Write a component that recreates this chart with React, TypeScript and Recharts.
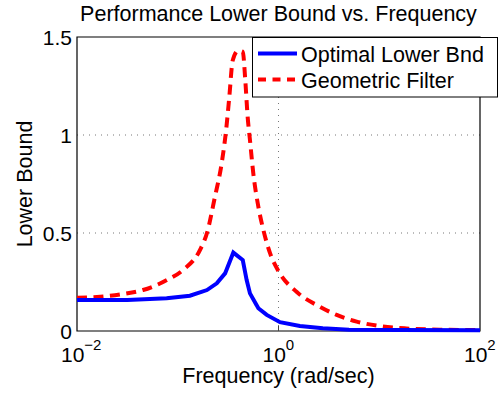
import React from 'react';
import { LineChart, Line, XAxis, YAxis, CartesianGrid, ReferenceArea } from 'recharts';

// Frequencies (rad/sec) and values
const optimalFreq = [0.01, 0.0316, 0.0776, 0.132, 0.195, 0.244, 0.295, 0.356, 0.442, 0.483, 0.521, 0.631, 0.764, 1.035, 1.63, 2.75, 5.0, 15.8, 100];
const optimalVals = [0.158, 0.158, 0.167, 0.18, 0.209, 0.243, 0.294, 0.4, 0.362, 0.26, 0.192, 0.116, 0.082, 0.045, 0.026, 0.014, 0.007, 0.005, 0.004];

const geometricFreq = [0.01, 0.017, 0.0288, 0.0452, 0.0782, 0.112, 0.166, 0.195, 0.234, 0.273, 0.302, 0.325, 0.351, 0.398, 0.442, 0.468, 0.494, 0.521, 0.562, 0.631, 0.708, 0.824, 1.0, 1.51, 2.57, 3.78, 5.97, 10.2, 18.6, 39.8, 100];
const geometricVals = [0.17, 0.175, 0.189, 0.209, 0.26, 0.31, 0.413, 0.5, 0.685, 0.856, 1.025, 1.195, 1.38, 1.43, 1.425, 1.28, 1.093, 0.974, 0.805, 0.634, 0.515, 0.397, 0.305, 0.2, 0.124, 0.082, 0.048, 0.025, 0.013, 0.007, 0.005];

const xTicks = [0.01, 1, 100];
const xTickExponents = ['\u22122', '0', '2'];
const yTicks = [0, 0.5, 1, 1.5];
const yTickLabels = ['0', '0.5', '1', '1.5'];

const seriesNames = ['Optimal Lower Bnd', 'Geometric Filter'];
const titleText = 'Performance Lower Bound vs. Frequency';
const xLabelText = 'Frequency (rad/sec)';
const yLabelText = 'Lower Bound';

const optimalData = optimalFreq.map((f, i) => ({ f, v: optimalVals[i] }));
const geometricData = geometricFreq.map((f, i) => ({ f, v: geometricVals[i] }));

const FONT = '"Liberation Sans", Arial, Helvetica, sans-serif';
const PLOT_TOP = 37;
const PLOT_BOTTOM = 331;
const PLOT_LEFT = 77;

const XTick = (props: any) => {
  const { x, payload } = props;
  const i = xTicks.indexOf(payload.value);
  const exp = i >= 0 ? xTickExponents[i] : '';
  const showTick = payload.value !== 0.01 && payload.value !== 100;
  return (
    <g>
      {showTick && (
        <>
          <line x1={x} x2={x} y1={PLOT_BOTTOM} y2={PLOT_BOTTOM - 5} stroke="#444" strokeWidth={1} />
          <line x1={x} x2={x} y1={PLOT_TOP} y2={PLOT_TOP + 5} stroke="#444" strokeWidth={1} />
        </>
      )}
      <text x={x - 16} y={PLOT_BOTTOM + 31} fontFamily={FONT} fontSize={21} fill="#000">
        <tspan>10</tspan>
        <tspan dy={-12} fontSize={15}>{exp}</tspan>
      </text>
    </g>
  );
};

const YTick = (props: any) => {
  const { y, payload } = props;
  const i = yTicks.indexOf(payload.value);
  return (
    <text x={PLOT_LEFT - 5} y={y} dy={7.5} textAnchor="end" fontFamily={FONT} fontSize={21} fill="#000">
      {i >= 0 ? yTickLabels[i] : ''}
    </text>
  );
};

const LegendBox = () => (
  <svg width={246} height={61} style={{ display: 'block' }}>
    <rect x={0.5} y={0.5} width={245} height={59.5} fill="#fff" stroke="#000" strokeWidth={1} />
    <line x1={6} x2={45} y1={16.5} y2={16.5} stroke="#0000ff" strokeWidth={4} />
    <text x={49} y={24.5} fontFamily={FONT} fontSize={21.5} fill="#000">{seriesNames[0]}</text>
    <line x1={6} x2={46} y1={42.5} y2={42.5} stroke="#ff0000" strokeWidth={4} strokeDasharray="8 6.5" />
    <text x={49} y={51} fontFamily={FONT} fontSize={21.5} fill="#000">{seriesNames[1]}</text>
  </svg>
);

export default function App() {
  return (
    <div style={{ position: 'absolute', left: 0, top: 0, width: 501, height: 394, background: '#fff' }}>
      <LineChart
        width={501}
        height={394}
        margin={{ top: PLOT_TOP, right: 21, left: 17, bottom: 23 }}
        style={{ fontFamily: FONT }}
      >
        <CartesianGrid
          horizontalValues={[0.5, 1]}
          verticalValues={[1]}
          stroke="#777"
          strokeDasharray="1 5"
          strokeWidth={1}
        />
        <XAxis
          type="number"
          dataKey="f"
          scale="log"
          domain={[0.01, 100]}
          ticks={xTicks}
          allowDataOverflow
          height={40}
          tickSize={0}
          tickMargin={0}
          tickLine={false}
          axisLine={false}
          tick={<XTick />}
          interval={0}
        />
        <YAxis
          type="number"
          dataKey="v"
          domain={[0, 1.5]}
          ticks={yTicks}
          width={60}
          tickSize={0}
          tickMargin={0}
          tickLine={false}
          axisLine={false}
          tick={<YTick />}
          interval={0}
        />
        <ReferenceArea x1={0.01} x2={100} y1={0} y2={1.5} fill="none" stroke="#000" strokeWidth={1.2} ifOverflow="visible" />
        <Line
          data={geometricData}
          dataKey="v"
          type="monotone"
          stroke="#ff0000"
          strokeWidth={4}
          strokeDasharray="10 6.5"
          dot={false}
          isAnimationActive={false}
          name={seriesNames[1]}
        />
        <Line
          data={optimalData}
          dataKey="v"
          type="linear"
          stroke="#0000ff"
          strokeWidth={4}
          dot={false}
          isAnimationActive={false}
          name={seriesNames[0]}
        />
      </LineChart>
      <div style={{ position: 'absolute', left: 252, top: 37 }}>
        <LegendBox />
      </div>
      <div style={{ position: 'absolute', left: 0, width: 557, top: 2, textAlign: 'center', fontFamily: FONT, fontSize: 21.5, lineHeight: '24px', color: '#000', whiteSpace: 'nowrap' }}>
        {titleText}
      </div>
      <div style={{ position: 'absolute', left: 0, width: 557, top: 364, textAlign: 'center', fontFamily: FONT, fontSize: 21.5, lineHeight: '24px', color: '#000', whiteSpace: 'nowrap' }}>
        {xLabelText}
      </div>
      <div style={{ position: 'absolute', left: 25, top: 184, width: 0, height: 0 }}>
        <div style={{ position: 'absolute', left: -100, top: -12, width: 200, textAlign: 'center', fontFamily: FONT, fontSize: 21.5, lineHeight: '24px', color: '#000', whiteSpace: 'nowrap', transform: 'rotate(-90deg)' }}>
          {yLabelText}
        </div>
      </div>
    </div>
  );
}
